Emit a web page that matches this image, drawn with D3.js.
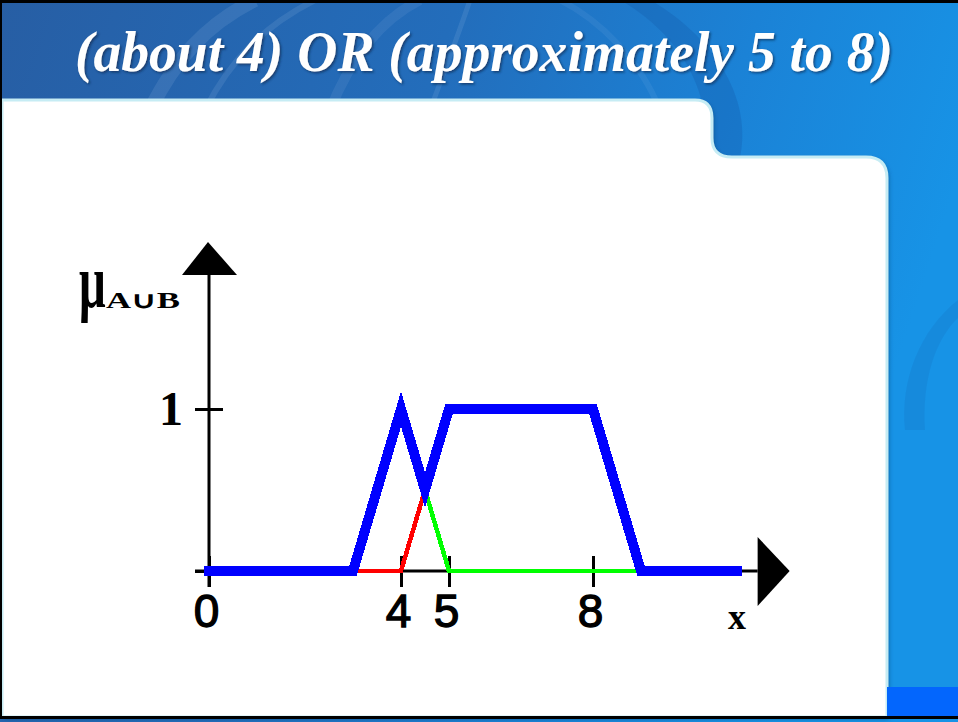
<!DOCTYPE html>
<html>
<head>
<meta charset="utf-8">
<script src="https://cdn.jsdelivr.net/npm/d3@7"></script>
<style>
  html, body { margin: 0; padding: 0; background: #ffffff; }
  svg { display: block; }
</style>
</head>
<body>
<svg id="chart" width="958" height="722"></svg>
<script>
// ---- data ----
const titleText = "(about 4) OR (approximately 5 to 8)";
const xTickValues = [0, 4, 5, 8];
const xTickLabels = ["0", "4", "5", "8"];
const yTickValues = [0, 1];
const yTickLabels = ["", "1"];
const xAxisLabel = "x";
const yAxisSymbol = "μ";
const yAxisSubscript = "A∪B";

// union of the two fuzzy sets (upper envelope)
const unionX = [0, 3, 4, 4.5, 5, 8, 9, 11];
const unionMu = [0, 0, 1, 0.5, 1, 1, 0, 0];
// hidden part of "approximately 5 to 8" (below the envelope)
const setBX = [3, 4, 4.5];
const setBMu = [0, 0, 0.5];
// hidden part of "about 4" (below the envelope)
const setAX = [4.5, 5, 9];
const setAMu = [0.5, 0, 0];

// ---- layout ----
const W = 958, H = 722;
const svg = d3.select("#chart");
const defs = svg.append("defs");

const x = d3.scaleLinear().domain([0, 11]).range([209, 737]);
const y = d3.scaleLinear().domain([0, 1]).range([571, 409]);
const xAxisEnd = 11.43;   // where the horizontal axis line meets its arrow
const yAxisEnd = 1.827;   // where the vertical axis line meets its arrow

// ---- slide background ----
const bg = defs.append("linearGradient").attr("id", "bgGrad")
  .attr("x1", "0").attr("y1", "0").attr("x2", "1").attr("y2", "0.25");
bg.append("stop").attr("offset", "0").attr("stop-color", "#275ea4");
bg.append("stop").attr("offset", "0.45").attr("stop-color", "#236dbb");
bg.append("stop").attr("offset", "0.75").attr("stop-color", "#1b82d6");
bg.append("stop").attr("offset", "1").attr("stop-color", "#1793e6");
svg.append("rect").attr("width", W).attr("height", H).attr("fill", "url(#bgGrad)");

// soft light streaks in the header
const glow = svg.append("g").attr("fill", "none").attr("stroke", "#d4e8ff");
[["M150,110 C175,60 205,25 255,0", 14, 0.10],
 ["M205,110 C230,60 265,25 315,0", 6, 0.10],
 ["M330,110 C350,60 380,20 420,0", 10, 0.08],
 ["M430,110 C445,70 460,30 470,0", 5, 0.10],
 ["M560,0 C600,20 640,60 660,110", 6, 0.07]].forEach(([d, w, op]) => {
  glow.append("path").attr("d", d).attr("stroke-width", w).attr("stroke-opacity", op);
});
// darker swirl bands
svg.append("path")
  .attr("d", "M650,0 C720,40 760,110 735,175 L700,175 C720,110 690,40 620,0 Z")
  .attr("fill", "#1558a8").attr("opacity", 0.3);
svg.append("path")
  .attr("d", "M958,300 C920,330 900,380 905,430 L925,430 C922,380 935,340 958,318 Z")
  .attr("fill", "#1462b0").attr("opacity", 0.18);

// ---- white content panel ----
const panelPath = "M2,100 L695,100 Q712,100 712,118 L712,138 Q712,157 732,157 " +
  "L866,157 Q887,157 887,178 L887,717 L2,717 Z";
const shadow = defs.append("filter").attr("id", "panelShadow")
  .attr("x", "-5%").attr("y", "-5%").attr("width", "110%").attr("height", "110%");
shadow.append("feDropShadow").attr("dx", 2).attr("dy", 2).attr("stdDeviation", 2)
  .attr("flood-color", "#0b3d70").attr("flood-opacity", 0.55);
svg.append("path").attr("d", panelPath).attr("fill", "#ffffff")
  .attr("filter", "url(#panelShadow)");
svg.append("path").attr("d", panelPath).attr("fill", "none")
  .attr("stroke", "#c6ecf4").attr("stroke-width", 3);

// bright corner block
svg.append("rect").attr("x", 887).attr("y", 687).attr("width", W - 887).attr("height", 31)
  .attr("fill", "#0366fd");

// frame lines
svg.append("rect").attr("x", 0).attr("y", 0).attr("width", W).attr("height", 3).attr("fill", "#000");
svg.append("rect").attr("x", 0).attr("y", 0).attr("width", 2).attr("height", 719).attr("fill", "#000");
svg.append("rect").attr("x", 0).attr("y", 716).attr("width", W).attr("height", 3).attr("fill", "#000");

// ---- title ----
const ts = defs.append("filter").attr("id", "titleShadow")
  .attr("x", "-5%").attr("y", "-20%").attr("width", "110%").attr("height", "140%");
ts.append("feDropShadow").attr("dx", 1.5).attr("dy", 1.5).attr("stdDeviation", 0.8)
  .attr("flood-color", "#0a2850").attr("flood-opacity", 0.7);
svg.append("text")
  .attr("x", 75).attr("y", 71)
  .attr("font-family", "'Liberation Serif', 'Times New Roman', serif")
  .attr("font-weight", "bold").attr("font-style", "italic")
  .attr("font-size", 56)
  .attr("textLength", 818).attr("lengthAdjust", "spacingAndGlyphs")
  .attr("fill", "#ffffff")
  .attr("filter", "url(#titleShadow)")
  .text(titleText);

// ---- chart ----
const plot = svg.append("g");

// horizontal axis with ticks crossing the line
const xAxis = d3.axisBottom(x)
  .tickValues(xTickValues)
  .tickFormat((d, i) => xTickLabels[i])
  .tickSize(16).tickPadding(7);
const gx = plot.append("g").attr("transform", `translate(0,${y(0)})`).call(xAxis);
gx.select(".domain").remove();
gx.selectAll(".tick line").attr("y1", -15).attr("stroke", "#000").attr("stroke-width", 3);
gx.selectAll(".tick text")
  .attr("dx", -3)
  .attr("fill", "#000")
  .attr("stroke", "#000").attr("stroke-width", 1.3)
  .attr("font-family", "'Liberation Sans', Arial, sans-serif")
  .attr("font-size", 46);

plot.append("line")
  .attr("x1", 195).attr("x2", x(xAxisEnd))
  .attr("y1", y(0)).attr("y2", y(0))
  .attr("stroke", "#000").attr("stroke-width", 3);
plot.append("path")
  .attr("d", `M${x(xAxisEnd)},${y(0) - 34} L${x(xAxisEnd) + 32},${y(0)} L${x(xAxisEnd)},${y(0) + 35} Z`)
  .attr("fill", "#000");

// vertical axis
const yAxis = d3.axisLeft(y)
  .tickValues(yTickValues)
  .tickFormat((d, i) => yTickLabels[i])
  .tickSize(14).tickPadding(12);
const gy = plot.append("g").attr("transform", `translate(${x(0)},0)`).call(yAxis);
gy.select(".domain").remove();
gy.selectAll(".tick line").attr("x2", -14).attr("x1", 14).attr("stroke", "#000").attr("stroke-width", 3);
gy.selectAll(".tick text")
  .attr("dy", "0.32em")
  .attr("fill", "#000")
  .attr("font-family", "'Liberation Serif', 'Times New Roman', serif")
  .attr("font-weight", "bold")
  .attr("font-size", 48);

plot.append("line")
  .attr("x1", x(0)).attr("x2", x(0))
  .attr("y1", y(yAxisEnd)).attr("y2", y(0) + 16)
  .attr("stroke", "#000").attr("stroke-width", 3);
plot.append("path")
  .attr("d", `M${x(0) - 27},${y(yAxisEnd)} L${x(0) - 1},${y(yAxisEnd) - 33} L${x(0) + 28},${y(yAxisEnd)} Z`)
  .attr("fill", "#000");

// axis names
plot.append("text")
  .attr("x", 737).attr("y", 629)
  .attr("text-anchor", "middle")
  .attr("font-family", "'Liberation Serif', 'Times New Roman', serif")
  .attr("font-weight", "bold").attr("font-size", 36)
  .attr("fill", "#000").text(xAxisLabel);

const muLabel = plot.append("g").attr("transform", "translate(79,307)");
muLabel.append("text")
  .attr("transform", "scale(1,1.6)")
  .attr("font-family", "'Liberation Serif', 'Times New Roman', serif")
  .attr("font-weight", "bold").attr("font-size", 47)
  .attr("fill", "#000").text(yAxisSymbol);
muLabel.append("text")
  .attr("x", 27).attr("y", 1)
  .attr("font-family", "'Liberation Serif', 'Times New Roman', serif")
  .attr("font-weight", "bold").attr("font-size", 23)
  .attr("textLength", 74).attr("lengthAdjust", "spacingAndGlyphs")
  .attr("fill", "#000").text(yAxisSubscript);

// membership curves
const line = d3.line().x(d => x(d[0])).y(d => y(d[1]));
const toPts = (xs, ms) => xs.map((v, i) => [v, ms[i]]);

plot.append("path").datum(toPts(setBX, setBMu))
  .attr("d", line).attr("fill", "none")
  .attr("stroke", "#ff0000").attr("stroke-width", 4.5)
  .attr("shape-rendering", "crispEdges");
plot.append("path").datum(toPts(setAX, setAMu))
  .attr("d", line).attr("fill", "none")
  .attr("stroke", "#00ff00").attr("stroke-width", 4.5)
  .attr("shape-rendering", "crispEdges");
plot.append("path").datum(toPts(unionX, unionMu))
  .attr("d", line).attr("fill", "none")
  .attr("stroke", "#0000ff").attr("stroke-width", 10)
  .attr("stroke-linecap", "square").attr("stroke-linejoin", "miter")
  .attr("shape-rendering", "crispEdges");
</script>
</body>
</html>
